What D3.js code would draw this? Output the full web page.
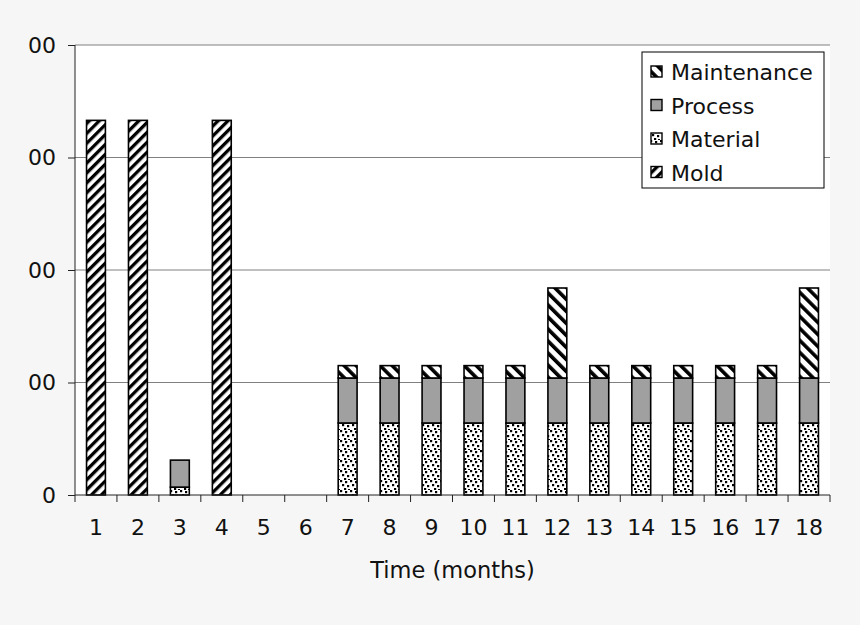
<!DOCTYPE html>
<html><head><meta charset="utf-8">
<script src="https://cdn.jsdelivr.net/npm/d3@7"></script>
<style>body{margin:0;background:#f6f6f6;} svg{display:block;}</style>
</head><body>
<svg id="c" width="860" height="625"></svg>
<script>
const months = ["1","2","3","4","5","6","7","8","9","10","11","12","13","14","15","16","17","18"];
const mold        = [333,333,0,333,0,0,0,0,0,0,0,0,0,0,0,0,0,0];
const material    = [0,0,7,0,0,0,64,64,64,64,64,64,64,64,64,64,64,64];
const process     = [0,0,24,0,0,0,40,40,40,40,40,40,40,40,40,40,40,40];
const maintenance = [0,0,0,0,0,0,11,11,11,11,11,80,11,11,11,11,11,80];
const yTicks = [0,100,200,300,400];
const yTickLabels = ["0","00","00","00","00"];
const seriesNames = ["Mold","Material","Process","Maintenance"];
const legendOrder = ["Maintenance","Process","Material","Mold"];

const FONT = "DejaVu Sans, Verdana, sans-serif";
const svg = d3.select("#c");
const m = {l:75, r:830, t:45, b:495};
const x = d3.scaleBand().domain(months).range([m.l, m.r]).paddingInner(0.55).paddingOuter(0.275);
const y = d3.scaleLinear().domain([0,400]).range([m.b, m.t]);

const defs = svg.append("defs");
function stripes(id, w, lw, angle){
  const p = defs.append("pattern").attr("id",id).attr("patternUnits","userSpaceOnUse")
    .attr("width",w).attr("height",w).attr("patternTransform",`rotate(${angle})`);
  p.append("rect").attr("width",w).attr("height",w).attr("fill","#fff");
  p.append("rect").attr("width",lw).attr("height",w).attr("fill","#000");
}
stripes("pMold", 7, 3.3, 45);
stripes("pMaint", 8.5, 3.6, -45);
const pd = defs.append("pattern").attr("id","pMat").attr("patternUnits","userSpaceOnUse").attr("width",10).attr("height",10);
pd.append("rect").attr("width",10).attr("height",10).attr("fill","#fff");
[[0,0],[5,1],[2,4],[7,5],[4,8],[8,9]].forEach(([a,b])=>pd.append("rect").attr("x",a).attr("y",b).attr("width",2.2).attr("height",2.2).attr("fill","#000"));
const fills = {Mold:"url(#pMold)", Material:"url(#pMat)", Process:"#a0a0a0", Maintenance:"url(#pMaint)"};

svg.append("rect").attr("x",m.l).attr("y",m.t).attr("width",m.r-m.l).attr("height",m.b-m.t).attr("fill","#fff");

svg.append("g").selectAll("line").data(yTicks.slice(1)).join("line")
  .attr("x1",m.l).attr("x2",m.r).attr("y1",d=>y(d)).attr("y2",d=>y(d))
  .attr("stroke","#808080").attr("stroke-width",1);

const data = months.map((mo,i)=>({month:mo, Mold:mold[i], Material:material[i], Process:process[i], Maintenance:maintenance[i]}));
const stack = d3.stack().keys(seriesNames)(data);
stack.forEach(s=>{
  svg.append("g").selectAll("rect").data(s.filter(d=>d[1]-d[0]>0)).join("rect")
    .attr("x",d=>x(d.data.month)).attr("width",x.bandwidth())
    .attr("y",d=>y(d[1])).attr("height",d=>y(d[0])-y(d[1]))
    .attr("fill",fills[s.key]).attr("stroke","#000").attr("stroke-width",1.6);
});

const ya = svg.append("g").attr("transform",`translate(${m.l},0)`)
  .call(d3.axisLeft(y).tickValues(yTicks).tickSize(7).tickPadding(12).tickFormat((d,i)=>yTickLabels[i]));
ya.select(".domain").attr("stroke","#222").attr("d",`M0,${m.t}V${m.b}`);
ya.selectAll(".tick line").attr("stroke","#222");
ya.selectAll("text").attr("font-family",FONT).attr("font-size",22).attr("fill","#111");

const xa = svg.append("g").attr("transform",`translate(0,${m.b})`)
  .call(d3.axisBottom(x).tickSize(0).tickPadding(24));
xa.select(".domain").attr("stroke","#222").attr("d",`M${m.l},0H${m.r}`);
xa.selectAll("text").attr("font-family",FONT).attr("font-size",22).attr("fill","#111");
const step = x.step();
svg.append("g").selectAll("line").data(d3.range(months.length+1)).join("line")
  .attr("x1",i=>m.l+i*step).attr("x2",i=>m.l+i*step).attr("y1",m.b).attr("y2",m.b+7)
  .attr("stroke","#222");

svg.append("text").attr("x",(m.l+m.r)/2).attr("y",578).attr("text-anchor","middle")
  .attr("font-family",FONT).attr("font-size",22.5).attr("fill","#111").text("Time (months)");

const lg = svg.append("g");
lg.append("rect").attr("x",642).attr("y",52).attr("width",182).attr("height",136).attr("fill","#fff").attr("stroke","#000");
legendOrder.forEach((n,i)=>{
  const yy = 72 + i*33.5;
  lg.append("rect").attr("x",651).attr("y",yy-6).attr("width",11).attr("height",11).attr("fill",fills[n]).attr("stroke","#000").attr("stroke-width",1.4);
  lg.append("text").attr("x",671).attr("y",yy+8).attr("font-family",FONT).attr("font-size",22).attr("fill","#111").text(n);
});
</script>
</body></html>
